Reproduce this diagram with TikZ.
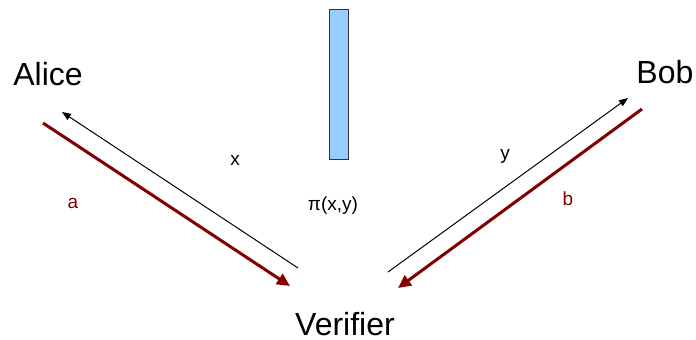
\documentclass[tikz,border=0pt]{standalone}
\usepackage{fontspec}
\setmainfont{Liberation Sans}
\usetikzlibrary{arrows.meta}
\definecolor{darkred}{RGB}{128,0,0}
\definecolor{slotblue}{RGB}{153,204,255}

\begin{document}
\begin{tikzpicture}[x=0.5pt, y=-0.5pt,
    party/.style={font=\fontsize{16}{19}\selectfont, inner sep=0pt},
    msg/.style={font=\fontsize{9.5}{11}\selectfont, inner sep=0pt},
    ans/.style={msg, text=darkred},
    ask/.style={-{Triangle[length=4.5pt, width=3.5pt]}, line width=0.5pt},
    reply/.style={-{Triangle[length=6.5pt, width=6pt]}, line width=1.5pt, darkred}]
  \useasboundingbox (0,0) rectangle (696,339);
  % parties
  \node[party, anchor=base west] (alice) at (13,85) {Alice};
  \node[party, anchor=base west] (bob) at (636,83) {Bob};
  \node[party, anchor=base] (verifier) at (345,335) {Verifier};
  % the proof
  \node[draw=black!80, fill=slotblue, line width=0.5pt, minimum width=9.5pt,
    minimum height=75pt, inner sep=0pt] (proof) at (338.5,84) {};
  \node[msg] (pi) at (333,206) {π(x,y)};
  % arrow ends
  \coordinate (aliceA) at (43,123);
  \coordinate (verA) at (290,286);
  \coordinate (verX) at (298,268);
  \coordinate (aliceX) at (62,112);
  \coordinate (verY) at (388,272);
  \coordinate (bobY) at (628,98);
  \coordinate (bobB) at (642,109);
  \coordinate (verB) at (398,288);
  % questions and answers
  \draw[ask] (verX) -- (aliceX);
  \draw[ask] (verY) -- (bobY);
  \draw[reply] (aliceA) -- (verA);
  \draw[reply] (bobB) -- (verB);
  \node[msg] (x) at (235,160) {x};
  \node[msg] (y) at (505,156) {y};
  \node[ans] (a) at (73,203) {a};
  \node[ans] (b) at (568,199) {b};
\end{tikzpicture}
\end{document}
